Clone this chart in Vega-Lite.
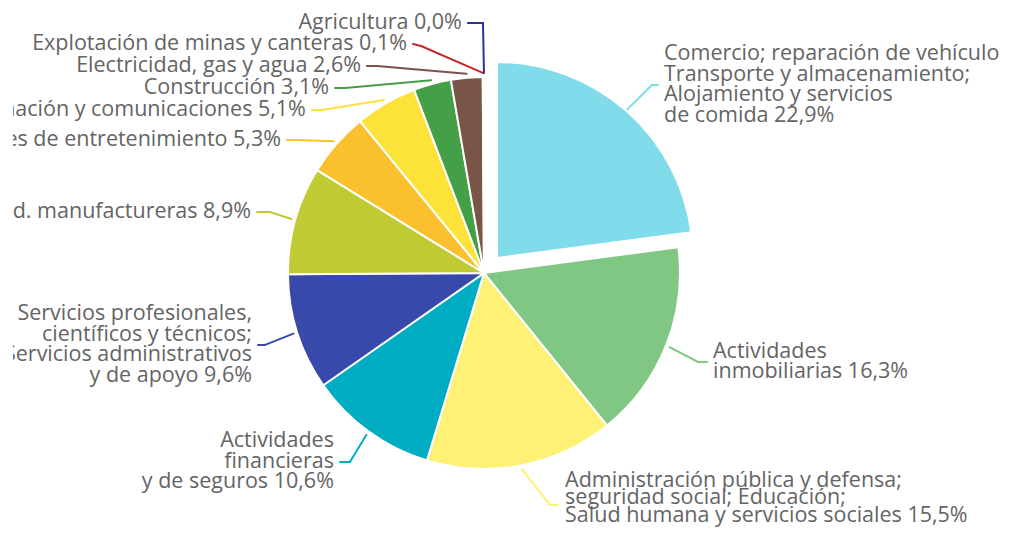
{
  "$schema": "https://vega.github.io/schema/vega-lite/v6.json",
  "width": 998,
  "height": 535,
  "autosize": {"type": "none"},
  "padding": {"left": 13, "top": 0, "right": 0, "bottom": 0},
  "background": "white",
  "config": {"view": {"stroke": null}},
  "data": {
    "values": [
      {"order": 1, "name": "Comercio", "value": 22.9, "ex": 0.857, "ey": 0.959, "lx": 0.888, "ly": 0.959, "label": "Comercio; reparación de vehículo|Transporte y almacenamiento;|Alojamiento y servicios|de comida 22,9%"},
      {"order": 2, "name": "Inmobiliarias", "value": 16.3, "ex": 1.092, "ey": -0.454, "lx": 1.138, "ly": -0.454, "label": "Actividades|inmobiliarias 16,3%"},
      {"order": 3, "name": "Administración", "value": 15.5, "ex": 0.337, "ey": -1.184, "lx": 0.378, "ly": -1.184, "label": "Administración pública y defensa;|seguridad social; Educación;|Salud humana y servicios sociales 15,5%"},
      {"order": 4, "name": "Financieras", "value": 10.6, "ex": -0.684, "ey": -0.964, "lx": -0.735, "ly": -0.964, "label": "Actividades|financieras|y de seguros 10,6%"},
      {"order": 5, "name": "Servicios", "value": 9.6, "ex": -1.117, "ey": -0.367, "lx": -1.153, "ly": -0.367, "label": "Servicios profesionales,|científicos y técnicos;|Servicios administrativos|y de apoyo 9,6%"},
      {"order": 6, "name": "Manufactureras", "value": 8.9, "ex": -1.092, "ey": 0.311, "lx": -1.158, "ly": 0.311, "label": "Ind. manufactureras 8,9%"},
      {"order": 7, "name": "Entretenimiento", "value": 5.3, "ex": -0.954, "ey": 0.679, "lx": -1.005, "ly": 0.679, "label": "Actividades de entretenimiento 5,3%"},
      {"order": 8, "name": "Comunicaciones", "value": 5.1, "ex": -0.827, "ey": 0.832, "lx": -0.878, "ly": 0.832, "label": "Información y comunicaciones 5,1%"},
      {"order": 9, "name": "Construcción", "value": 3.1, "ex": -0.709, "ey": 0.944, "lx": -0.76, "ly": 0.944, "label": "Construcción 3,1%"},
      {"order": 10, "name": "Electricidad", "value": 2.6, "ex": -0.546, "ey": 1.056, "lx": -0.597, "ly": 1.056, "label": "Electricidad, gas y agua 2,6%"},
      {"order": 11, "name": "Explotación", "value": 0.1, "ex": -0.321, "ey": 1.158, "lx": -0.362, "ly": 1.168, "label": "Explotación de minas y canteras 0,1%"},
      {"order": 12, "name": "Agricultura", "value": 0.0, "ex": -0.005, "ey": 1.276, "lx": -0.082, "ly": 1.276, "label": "Agricultura 0,0%"}
    ]
  },
  "transform": [
    {"window": [{"op": "sum", "field": "value", "as": "cum"}], "sort": [{"field": "order"}], "frame": [null, 0]},
    {"calculate": "datum.cum - datum.value", "as": "start"},
    {"calculate": "(datum.cum - datum.value / 2) / 100 * 2 * PI", "as": "mid"},
    {"calculate": "datum.name == 'Comercio' ? 1.11 : 1.02", "as": "sr"},
    {"calculate": "datum.sr * sin(datum.mid)", "as": "sx"},
    {"calculate": "datum.sr * cos(datum.mid)", "as": "sy"},
    {"calculate": "length(split(datum.label, '|'))", "as": "nl"},
    {"calculate": "datum.ly + (datum.nl - 1) * 0.0523", "as": "ty"}
  ],
  "layer": [
    {
      "transform": [{"filter": "datum.name != 'Comercio'"}],
      "mark": {"type": "arc", "outerRadius": 196, "stroke": "white", "strokeWidth": 2},
      "encoding": {
        "x": {"datum": 0, "type": "quantitative", "scale": {"domain": [-2.403, 2.689], "nice": false, "zero": false}, "axis": null},
        "y": {"datum": 0, "type": "quantitative", "scale": {"domain": [-1.3367, 1.3929], "nice": false, "zero": false}, "axis": null},
        "theta": {"field": "start", "type": "quantitative", "scale": {"domain": [0, 100]}},
        "theta2": {"field": "cum"},
        "color": {"field": "name", "type": "nominal", "legend": null,
          "scale": {"domain": ["Comercio","Inmobiliarias","Administración","Financieras","Servicios","Manufactureras","Entretenimiento","Comunicaciones","Construcción","Electricidad","Explotación","Agricultura"],
                    "range": ["#80dcea","#81c784","#fff176","#00acc1","#3949ab","#c0ca33","#fbc02d","#fde23a","#43a047","#795548","#c62828","#283593"]}}
      }
    },
    {
      "transform": [{"filter": "datum.name == 'Comercio'"}],
      "mark": {"type": "arc", "outerRadius": 196, "stroke": "white", "strokeWidth": 2, "xOffset": 13, "yOffset": -15},
      "encoding": {
        "x": {"datum": 0, "type": "quantitative", "scale": {"domain": [-2.403, 2.689], "nice": false, "zero": false}, "axis": null},
        "y": {"datum": 0, "type": "quantitative", "scale": {"domain": [-1.3367, 1.3929], "nice": false, "zero": false}, "axis": null},
        "theta": {"field": "start", "type": "quantitative", "scale": {"domain": [0, 100]}},
        "theta2": {"field": "cum"},
        "color": {"field": "name", "type": "nominal", "legend": null}
      }
    },
    {
      "mark": {"type": "rule", "strokeWidth": 2, "strokeCap": "round"},
      "encoding": {
        "x": {"field": "sx", "type": "quantitative", "scale": {"domain": [-2.403, 2.689], "nice": false, "zero": false}, "axis": null},
        "y": {"field": "sy", "type": "quantitative", "scale": {"domain": [-1.3367, 1.3929], "nice": false, "zero": false}, "axis": null},
        "x2": {"field": "ex"},
        "y2": {"field": "ey"},
        "color": {"field": "name", "type": "nominal", "legend": null}
      }
    },
    {
      "mark": {"type": "rule", "strokeWidth": 2, "strokeCap": "round"},
      "encoding": {
        "x": {"field": "ex", "type": "quantitative", "scale": {"domain": [-2.403, 2.689], "nice": false, "zero": false}, "axis": null},
        "y": {"field": "ey", "type": "quantitative", "scale": {"domain": [-1.3367, 1.3929], "nice": false, "zero": false}, "axis": null},
        "x2": {"field": "lx"},
        "y2": {"field": "ly"},
        "color": {"field": "name", "type": "nominal", "legend": null}
      }
    },
    {
      "transform": [{"filter": "datum.lx < 0"}],
      "mark": {"type": "text", "align": "right", "baseline": "middle", "dx": -6, "lineBreak": "|", "lineHeight": 20.5, "font": "Open Sans", "fontSize": 21.5, "color": "#646464", "clip": true},
      "encoding": {
        "x": {"field": "lx", "type": "quantitative", "scale": {"domain": [-2.403, 2.689], "nice": false, "zero": false}, "axis": null},
        "y": {"field": "ty", "type": "quantitative", "scale": {"domain": [-1.3367, 1.3929], "nice": false, "zero": false}, "axis": null},
        "text": {"field": "label"}
      }
    },
    {
      "transform": [{"filter": "datum.lx > 0 && datum.name != 'Administración'"}],
      "mark": {"type": "text", "align": "left", "baseline": "middle", "dx": 6, "lineBreak": "|", "lineHeight": 20.5, "font": "Open Sans", "fontSize": 21.5, "color": "#646464"},
      "encoding": {
        "x": {"field": "lx", "type": "quantitative", "scale": {"domain": [-2.403, 2.689], "nice": false, "zero": false}, "axis": null},
        "y": {"field": "ty", "type": "quantitative", "scale": {"domain": [-1.3367, 1.3929], "nice": false, "zero": false}, "axis": null},
        "text": {"field": "label"}
      }
    },
    {
      "transform": [{"filter": "datum.name == 'Administración'"}],
      "mark": {"type": "text", "align": "left", "baseline": "middle", "dx": 7, "dy": -4, "lineBreak": "|", "lineHeight": 17.5, "font": "Open Sans", "fontSize": 21.5, "color": "#646464"},
      "encoding": {
        "x": {"field": "lx", "type": "quantitative", "scale": {"domain": [-2.403, 2.689], "nice": false, "zero": false}, "axis": null},
        "y": {"field": "ty", "type": "quantitative", "scale": {"domain": [-1.3367, 1.3929], "nice": false, "zero": false}, "axis": null},
        "text": {"field": "label"}
      }
    }
  ]
}
